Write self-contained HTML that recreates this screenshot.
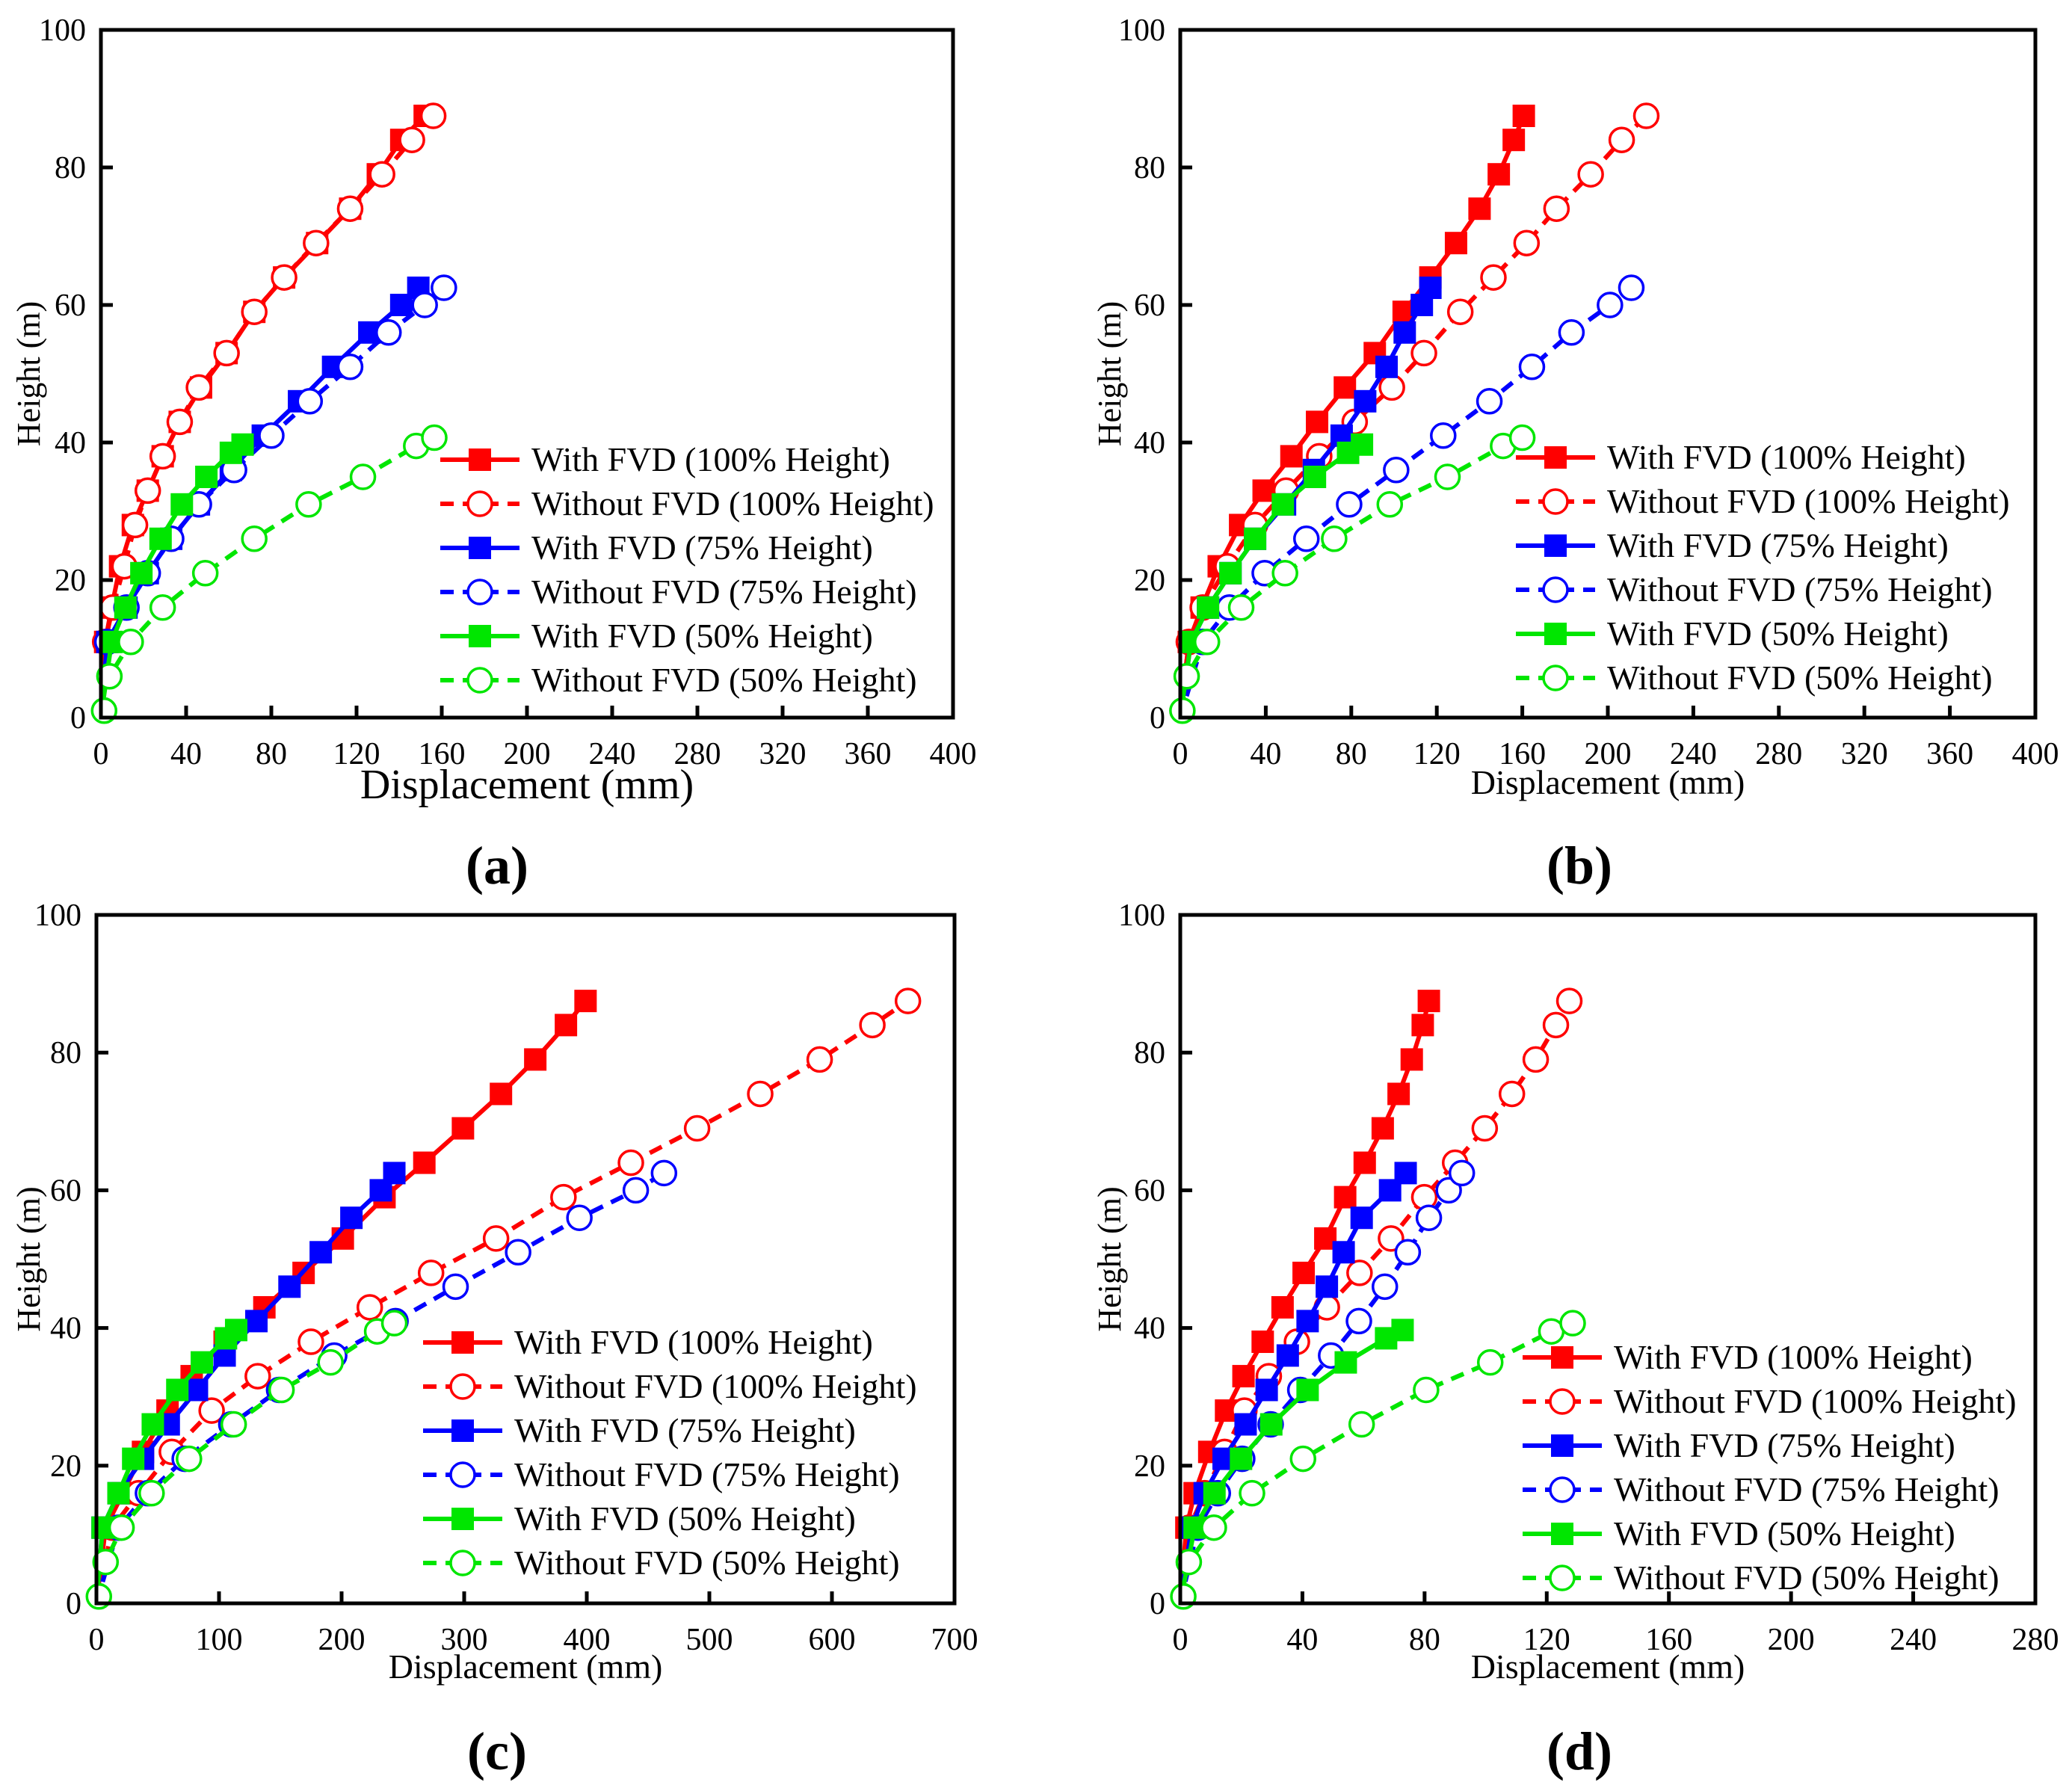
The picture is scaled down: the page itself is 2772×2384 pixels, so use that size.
<!DOCTYPE html>
<html><head><meta charset="utf-8"><style>
html,body{margin:0;padding:0;background:#fff}
svg{display:block}
text{font-family:"Liberation Serif","Times New Roman",serif;fill:#000}
</style></head><body>
<svg id="fig" xmlns="http://www.w3.org/2000/svg" width="2772" height="2384" viewBox="0 0 2772 2384" font-family="Liberation Serif, serif"></svg>
<script>
// Heights (m) per series type
const hRed = [0,11,16,22,28,33,38,43,48,53,59,64,69,74,79,84,87.5];
const hBlue = [0,11,16,21,26,31,36,41,46,51,56,60,62.5];
const hGreenW = [0,11,16,21,26,31,35,38.5,39.7];
const hGreenWo = [1,6,11,16,21,26,31,35,39.5,40.7];
// Panel (a) displacements (mm)
const aRedW = [0,2,5,9,15,22,29,37,47,59,72,86,101.5,117,130,141,152];
const aRedWo = [0,2,5.5,11,16,22,29,37,46,59,72,86,101,117,132,146,156];
const aBlueW = [0,3,12,22,33,46,61,76,93,109,126,141,149];
const aBlueWo = [0,3,12,22,33,46,62.5,80,98,117,135,152,161];
const aGreenW = [0,5,11.5,19,28,38,49.5,61,66.5];
const aGreenWo = [1.5,4,14,29,49,72,97.5,123,148,156.5];
// Panel (b)
const bRedW = [0,4,10,18,28,39,52,64,77,91,104.5,117,129,140,149,156,160.7];
const bRedWo = [0,4,10.5,22,35,49.5,65,81.6,99,114,131,146.5,162,176,192,206.5,218];
const bBlueW = [0,5,13,23.5,35,49,62.5,75.5,86.5,96.5,105,113,117];
const bBlueWo = [0,10.5,23,39.5,59,79,101,123,144.6,164.5,183,201,211];
const bGreenW = [0,5,13,23.5,35,48,63,78.5,85];
const bGreenWo = [1,3,12.5,28.5,49,72,98,125,151,160];
// Panel (c)
const cRedW = [0,7.5,21.6,38,58,77.7,104.6,137,169,201,235,267.5,299,330,358,383,399];
const cRedWo = [0,13,34.5,61.5,94,131.6,175,223,273,326,381,436,490,541.5,590,633,662];
const cBlueW = [0,5,18,38,59,82,104.6,130.5,157.5,183,208,232,243];
const cBlueWo = [0,18,42,72,110,149,194,244,293,344,394,440,463];
const cGreenW = [0,5,18,30,46,66,86,105.7,114];
const cGreenWo = [2,7.5,20.5,45,75.5,112,151,191,229,243];
// Panel (d)
const dRedW = [0,2,4.7,9.5,15,20.7,27,33.5,40.4,47.5,54,60.4,66.3,71.5,75.8,79.4,81.4];
const dRedWo = [0,3,8,14.5,21,29,38.2,48,58.7,69,79.9,90,99.7,108.6,116.4,123,127.4];
const dBlueW = [0,3.7,8,14.2,21.4,28.3,35.2,41.7,48,53.5,59.4,68.7,73.8];
const dBlueWo = [0,5.8,12.3,20.3,29.6,39.3,49.4,58.5,67,74.5,81.4,87.9,92.2];
const dGreenW = [0,4.7,11.2,19.9,29.8,41.7,54.2,67.4,72.8];
const dGreenWo = [1,2.8,11,23.5,40.2,59.4,80.5,101.5,121.5,128.5];
const yTicks = [0,20,40,60,80,100];
const xTicksA = [0,40,80,120,160,200,240,280,320,360,400];
const xTicksC = [0,100,200,300,400,500,600,700];
const xTicksD = [0,40,80,120,160,200,240,280];
const legendLabels = ["With FVD (100% Height)","Without FVD (100% Height)","With FVD (75% Height)","Without FVD (75% Height)","With FVD (50% Height)","Without FVD (50% Height)"];

const NS="http://www.w3.org/2000/svg";
const svg=document.getElementById('fig');
const FF='Liberation Serif, Times New Roman, serif';
function mk(tag,attrs,parent){const e=document.createElementNS(NS,tag);for(const k in attrs)e.setAttribute(k,attrs[k]);if(tag==='text')e.setAttribute('font-family',FF);(parent||svg).appendChild(e);return e;}
const RED="#ff0000",BLUE="#0000ff",GREEN="#00e600";

const panels=[
 {id:'a',x0:135,x1:1275,y0:40,y1:960,xmax:400,xt:xTicksA,data:[aRedW,aRedWo,aBlueW,aBlueWo,aGreenW,aGreenWo],leg:[589,711,615],titleSize:56,titleY:1068,labX:665,lab:'(a)',yT:39},
 {id:'b',x0:1579,x1:2723,y0:40,y1:960,xmax:400,xt:xTicksA,data:[bRedW,bRedWo,bBlueW,bBlueWo,bGreenW,bGreenWo],leg:[2028,2150,612],titleSize:46,titleY:1062,labX:2113,lab:'(b)',yT:1485},
 {id:'c',x0:129,x1:1277,y0:1224,y1:2145,xmax:700,xt:xTicksC,data:[cRedW,cRedWo,cBlueW,cBlueWo,cGreenW,cGreenWo],leg:[566,688,1796],titleSize:46,titleY:2245,labX:665,lab:'(c)',yT:39},
 {id:'d',x0:1579,x1:2723,y0:1224,y1:2145,xmax:280,xt:xTicksD,data:[dRedW,dRedWo,dBlueW,dBlueWo,dGreenW,dGreenWo],leg:[2037,2159,1816],titleSize:46,titleY:2245,labX:2113,lab:'(d)',yT:1485}
];
const heights=[hRed,hRed,hBlue,hBlue,hGreenW,hGreenWo];
const colors=[RED,RED,BLUE,BLUE,GREEN,GREEN];
const names=['with-fvd-100','without-fvd-100','with-fvd-75','without-fvd-75','with-fvd-50','without-fvd-50'];

function marker(g,filled,color,x,y,name){
  let m;
  if(filled){m=mk('rect',{x:x-15,y:y-15,width:30,height:30,fill:color},g);}
  else{m=mk('circle',{cx:x,cy:y,r:16,fill:'#fff',stroke:color,'stroke-width':3.5},g);}
  
  
}

panels.forEach(p=>{
  const g=mk('g',{});
  
  
  const sx=v=>p.x0+(p.x1-p.x0)*v/p.xmax;
  const sy=v=>p.y1-(p.y1-p.y0)*v/100;
  p.data.forEach((xs,si)=>{
    const hs=heights[si];const filled=si%2===0;
    const sg=mk('g',{},g);
    
    
    const pts=xs.map((v,i)=>sx(v)+','+sy(hs[i])).join(' ');
    const pl=mk('polyline',{points:pts,fill:'none',stroke:colors[si],'stroke-width':6,'stroke-dasharray':filled?'none':'18 12'},sg);
    
    
    xs.forEach((v,i)=>{ if(hs[i]>0) marker(sg,filled,colors[si],sx(v),sy(hs[i]),'point-'+names[si]); });
  });
  const fr=mk('rect',{x:p.x0,y:p.y0,width:p.x1-p.x0,height:p.y1-p.y0,fill:'none',stroke:'#000','stroke-width':5},g);
  
  
  yTicks.forEach(t=>{
    const y=sy(t);
    const l=mk('line',{x1:p.x0,x2:p.x0+16,y1:y,y2:y,stroke:'#000','stroke-width':5},g);
    
    
    const tx=mk('text',{x:p.x0-20,y:y+14,'font-size':42,'text-anchor':'end'},g);
    tx.textContent=t;
    
    
  });
  p.xt.forEach(t=>{
    const x=sx(t);
    const l=mk('line',{x1:x,x2:x,y1:p.y1,y2:p.y1-16,stroke:'#000','stroke-width':5},g);
    
    
    const tx=mk('text',{x:x,y:p.y1+62,'font-size':42,'text-anchor':'middle'},g);
    tx.textContent=t;
    
    
  });
  const xt=mk('text',{x:(p.x0+p.x1)/2,y:p.titleY,'font-size':p.titleSize,'text-anchor':'middle'},g);
  xt.textContent='Displacement (mm)';
  
  
  const yc=(p.y0+p.y1)/2;
  const yt=mk('text',{x:p.yT+14,y:yc,'font-size':44,'text-anchor':'middle',transform:'rotate(-90 '+(p.yT+14)+' '+yc+')'},g);
  yt.textContent='Height (m)';
  
  
  const lb=mk('text',{x:p.labX,y:p.y1+222,'font-size':72,'font-weight':'bold','text-anchor':'middle'},g);
  lb.textContent=p.lab;
  
  
  const lg=mk('g',{},g);
  
  
  legendLabels.forEach((s,i)=>{
    const y=p.leg[2]+59*i;const filled=i%2===0;
    const eg=mk('g',{},lg);
    
    
    mk('line',{x1:p.leg[0],x2:p.leg[0]+106,y1:y,y2:y,stroke:colors[i],'stroke-width':6,'stroke-dasharray':filled?'none':'18 12'},eg);
    marker(eg,filled,colors[i],p.leg[0]+53,y,'legend-marker');
    const t=mk('text',{x:p.leg[1],y:y+15,'font-size':46},eg);
    t.textContent=s;
  });
});
</script>
</body></html>
